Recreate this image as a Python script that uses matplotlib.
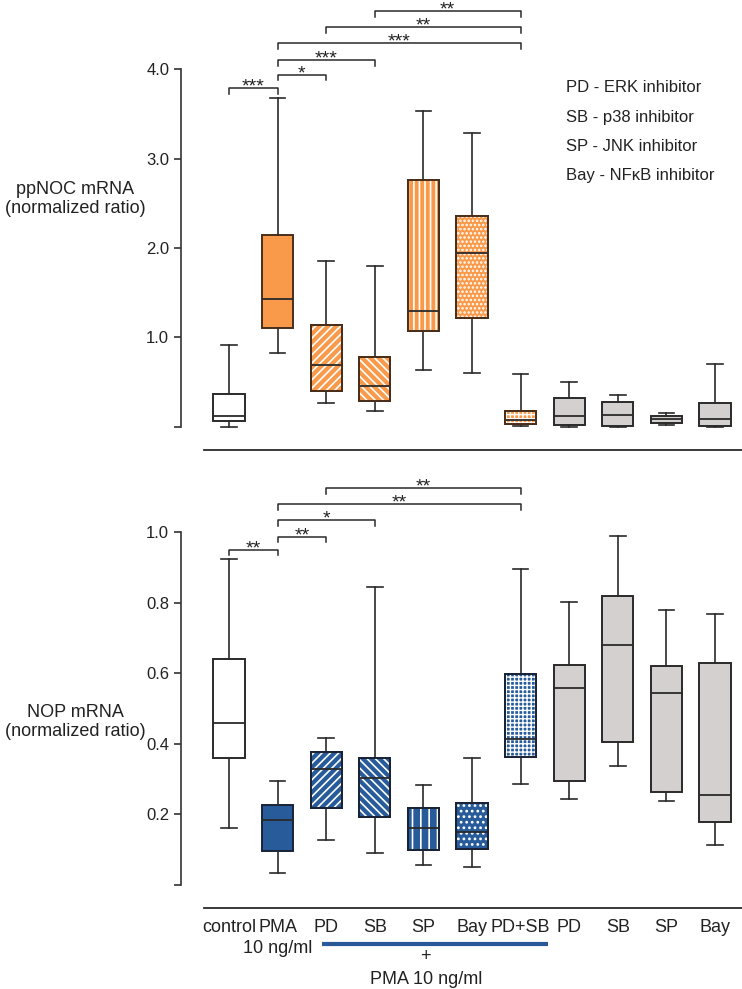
import numpy as np
import matplotlib.pyplot as plt
from matplotlib.patches import PathPatch

plt.rcParams['font.family'] = ['Liberation Sans', 'DejaVu Sans']
plt.rcParams['hatch.linewidth'] = 1.2

groups = ['control', 'PMA', 'PD', 'SB', 'SP', 'Bay', 'PD+SB', 'PD', 'SB', 'SP', 'Bay']

# ppNOC mRNA (top panel)
ppnoc_lo  = [0.00, 0.83, 0.26, 0.18, 0.63, 0.60, 0.01, 0.00, 0.00, 0.02, 0.00]
ppnoc_q1  = [0.06, 1.11, 0.40, 0.29, 1.07, 1.22, 0.03, 0.015, 0.01, 0.04, 0.01]
ppnoc_med = [0.12, 1.43, 0.69, 0.45, 1.30, 1.94, 0.07, 0.12, 0.13, 0.09, 0.09]
ppnoc_q3  = [0.37, 2.15, 1.14, 0.78, 2.76, 2.36, 0.18, 0.32, 0.28, 0.12, 0.26]
ppnoc_hi  = [0.91, 3.68, 1.86, 1.80, 3.53, 3.29, 0.59, 0.50, 0.35, 0.15, 0.70]

# NOP mRNA (bottom panel)
nop_lo  = [0.162, 0.034, 0.126, 0.091, 0.055, 0.051, 0.285, 0.243, 0.336, 0.238, 0.113]
nop_q1  = [0.359, 0.095, 0.217, 0.192, 0.099, 0.100, 0.363, 0.295, 0.405, 0.262, 0.178]
nop_med = [0.459, 0.183, 0.327, 0.302, 0.162, 0.149, 0.414, 0.557, 0.681, 0.545, 0.254]
nop_q3  = [0.641, 0.226, 0.377, 0.360, 0.218, 0.231, 0.598, 0.624, 0.820, 0.621, 0.630]
nop_hi  = [0.924, 0.294, 0.417, 0.845, 0.284, 0.359, 0.897, 0.803, 0.990, 0.778, 0.769]

# significance brackets: (group i, group j, height, label)
ppnoc_sig = [(1, 2, 3.79, '***'), (2, 3, 3.94, '*'), (2, 4, 4.10, '***'),
             (2, 7, 4.29, '***'), (3, 7, 4.47, '**'), (4, 7, 4.65, '**')]
nop_sig = [(1, 2, 0.950, '**'), (2, 3, 0.987, '**'), (2, 4, 1.034, '*'),
           (2, 7, 1.080, '**'), (3, 7, 1.125, '**')]

inhibitors = ['PD - ERK inhibitor', 'SB - p38 inhibitor', 'SP - JNK inhibitor',
              'Bay - NF\u03baB inhibitor']

orange = '#F99A4A'
blue = '#275B9A'
gray = '#D5D0D0'
dark = '#2a2a2a'
hatches = [None, None, '////', '\\\\\\\\', '|||', '....', '++++', None, None, None, None]
hatches_b = [None, None, '////', '\\\\\\\\', '||', '...', '++++', None, None, None, None]
hatch_lw = [0, 0, 1.2, 1.2, 1.2, 1.2, 1.0, 0, 0, 0, 0]
top_fill = ['white'] + [orange] * 6 + [gray] * 4
bot_fill = ['white'] + [blue] * 6 + [gray] * 4

W, H = 742, 989
fig = plt.figure(figsize=(W / 100, H / 100), dpi=100)


def px_axes(top, bottom):
    return fig.add_axes([181 / W, 1 - bottom / H, (W - 181) / W, (bottom - top) / H])


def draw_panel(ax, lo, q1, med, q3, hi, fills, hs, edge_cols):
    stats = []
    for i in range(len(groups)):
        stats.append(dict(whislo=lo[i], q1=q1[i], med=med[i], q3=q3[i],
                          whishi=hi[i], fliers=[]))
    pos = np.arange(1, len(groups) + 1)
    res = ax.bxp(stats, positions=pos, widths=0.64, capwidths=0.32,
                 patch_artist=True, showfliers=False,
                 boxprops=dict(linewidth=1.4),
                 whiskerprops=dict(color=dark, linewidth=1.2),
                 capprops=dict(color=dark, linewidth=1.2),
                 medianprops=dict(color=dark, linewidth=1.3))
    for box, fc, h, hl, ec in zip(res['boxes'], fills, hs, hatch_lw, edge_cols):
        box.set_facecolor(fc)
        box.set_edgecolor(ec)
        if h:
            with plt.rc_context({'hatch.linewidth': hl}):
                ov = PathPatch(box.get_path(), transform=box.get_transform(),
                               facecolor='none', edgecolor='white', lw=0,
                               hatch=h, zorder=2.05)
            if hasattr(ov, 'set_hatch_linewidth'):
                ov.set_hatch_linewidth(hl)
            ax.add_patch(ov)
            ol = PathPatch(box.get_path(), transform=box.get_transform(),
                           facecolor='none', edgecolor=ec, lw=1.4, zorder=2.15)
            ax.add_patch(ol)
    for s in ['top', 'right', 'bottom']:
        ax.spines[s].set_visible(False)
    ax.spines['left'].set_linewidth(1.2)
    ax.spines['left'].set_color('#333333')
    ax.tick_params(axis='y', direction='out', length=5, width=1.2,
                   colors='#333333', labelsize=12, labelcolor='#222222')
    ax.tick_params(axis='x', bottom=False, labelbottom=False)


def bracket(ax, i, j, y, h, label):
    ax.plot([i, i, j, j], [y - h, y, y, y - h], color=dark, lw=1.1, clip_on=False)
    ax.annotate(label, xy=((i + j) / 2, y), xytext=(0, -2.5),
                textcoords='offset points', ha='center', va='baseline',
                fontsize=14, color='#222222', annotation_clip=False)


edge_top = ['#2a2a2a'] + ['#4a2e1a'] * 6 + ['#2a2a2a'] * 4
edge_bot = ['#2a2a2a'] + ['#1a2236'] * 6 + ['#2a2a2a'] * 4

# top panel
ax1 = px_axes(0, 460)
xl = (1 + (181 - 229) / 48.6, 1 + (742 - 229) / 48.6)
draw_panel(ax1, ppnoc_lo, ppnoc_q1, ppnoc_med, ppnoc_q3, ppnoc_hi,
           top_fill, hatches, edge_top)
ax1.set_xlim(*xl)
ax1.set_ylim((426.7 - 460) / 89.35, 426.7 / 89.35)
ax1.spines['left'].set_bounds(0, 4)
ax1.set_yticks([0, 1, 2, 3, 4])
ax1.set_yticklabels(['', '1.0', '2.0', '3.0', '4.0'])
ax1.plot([0.486, xl[1]], [-0.266, -0.266], color=dark, lw=1.3, clip_on=False)
for i, j, y, lab in ppnoc_sig:
    bracket(ax1, i, j, y, 0.064, lab)
for k, t in enumerate(inhibitors):
    fig.text(566 / W, 1 - (88 + 29.3 * k) / H, t, fontsize=12,
             va='center', ha='left', color='#222222')
fig.text(75 / W, 1 - 199 / H, 'ppNOC mRNA\n(normalized ratio)', fontsize=13,
         ha='center', va='center', color='#222222', linespacing=1.2)

# bottom panel
ax2 = px_axes(470, 989)
draw_panel(ax2, nop_lo, nop_q1, nop_med, nop_q3, nop_hi,
           bot_fill, hatches_b, edge_bot)
ax2.set_xlim(*xl)
ax2.set_ylim((884.7 - 989) / 352.5, (884.7 - 470) / 352.5)
ax2.spines['left'].set_bounds(0, 1.0)
ax2.set_yticks([0, 0.2, 0.4, 0.6, 0.8, 1.0])
ax2.set_yticklabels(['', '0.2', '0.4', '0.6', '0.8', '1.0'])
ax2.plot([0.486, xl[1]], [-0.0658, -0.0658], color=dark, lw=1.3, clip_on=False)
for i, j, y, lab in nop_sig:
    bracket(ax2, i, j, y, 0.016, lab)
fig.text(75 / W, 1 - 722 / H, 'NOP mRNA\n(normalized ratio)', fontsize=13,
         ha='center', va='center', color='#222222', linespacing=1.2)

# group labels
for k, g in enumerate(groups):
    ax2.text(k + 1, -0.120, g, ha='center', va='center', fontsize=13,
             color='#222222', clip_on=False)
ax2.text(2, -0.180, '10 ng/ml', ha='center', va='center', fontsize=13,
         color='#222222', clip_on=False)
ax2.plot([2.914, 7.564], [-0.168, -0.168], color='#2A5A96', lw=3,
         clip_on=False, solid_capstyle='butt')
ax2.text(5.05, -0.205, '+', ha='center', va='center', fontsize=13,
         color='#222222', clip_on=False)
ax2.text(5.05, -0.270, 'PMA 10 ng/ml', ha='center', va='center', fontsize=13,
         color='#222222', clip_on=False)

fig.savefig('out.png', dpi=100, facecolor='white')
